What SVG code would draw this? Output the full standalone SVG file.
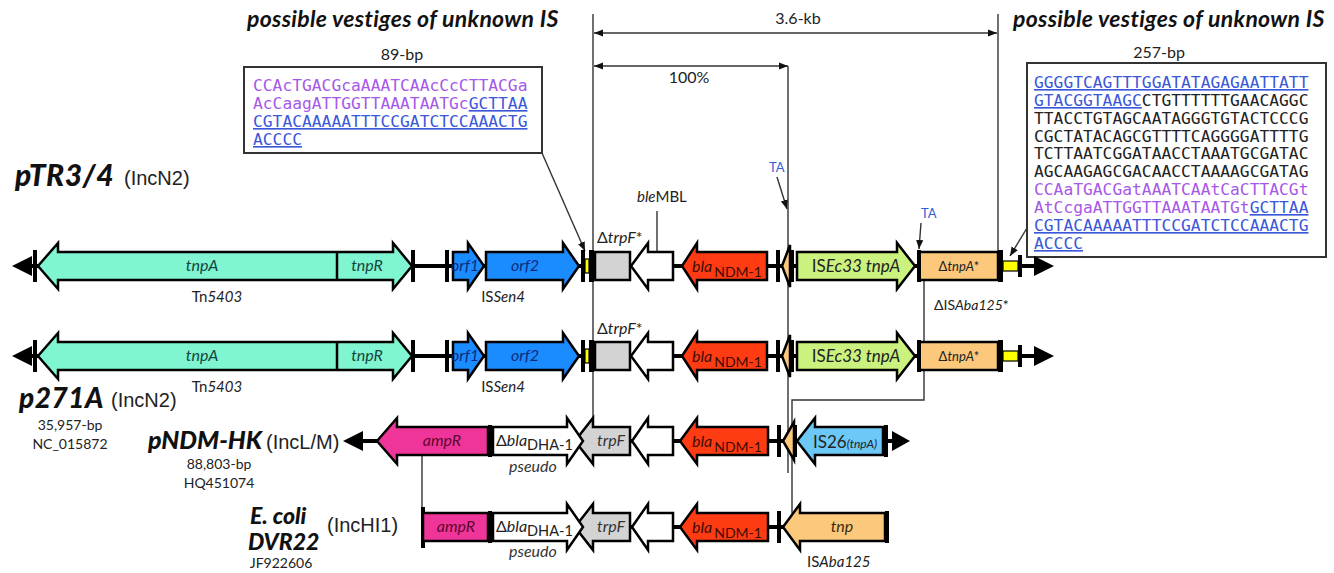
<svg xmlns="http://www.w3.org/2000/svg" width="1334" height="573" viewBox="0 0 1334 573">
<defs>
<marker id="ah" viewBox="0 0 10 10" refX="10" refY="5" markerWidth="9" markerHeight="9" orient="auto-start-reverse" markerUnits="userSpaceOnUse"><path d="M0,1 L10,5 L0,9 z" fill="#111"/></marker>
</defs>
<style>
.g{stroke:#000;stroke-width:2.5;stroke-linejoin:miter}
.bb{stroke:#000;stroke-width:4}
.tk{fill:#000}
.ln{stroke:#333;stroke-width:1.4;fill:none}
.aq{fill:#7ff5d2}.bl{fill:#1a8cff}.gy{fill:#d3d3d3}.wh{fill:#fff}.rd{fill:#ff3b14}.gr{fill:#cbf27e}.tn{fill:#fcc97c}.pk{fill:#f0359a}.sk{fill:#6cc8f7}.yl{fill:#ffff00;stroke:#000;stroke-width:1.2}
.t{font-family:Lato,"Open Sans",sans-serif;fill:#222}
.i{font-style:italic}
.gl{font-family:Lato,"Open Sans",sans-serif;font-style:italic;font-size:16px}
.ttl{font-family:Lato,"Open Sans",sans-serif;font-weight:bold;font-style:italic;font-size:23px;letter-spacing:0.3px;fill:#111}
.pl{font-family:Lato,"Open Sans",sans-serif;font-weight:900;font-style:italic;fill:#111}
.inc{font-family:"Liberation Sans",Arial,sans-serif;font-size:20px;fill:#222}
.sm{font-family:Lato,"Open Sans",sans-serif;font-size:14px;fill:#222}
.seq{font-family:"DejaVu Sans Mono",monospace;font-size:16.3px}
.pu{fill:#a659e8}.bu{fill:#3b57d9;text-decoration:underline}.bk{fill:#222}
.ta{font-family:Lato,"Open Sans",sans-serif;font-size:13px;fill:#2e5fd8}
.box{fill:#fff;stroke:#333;stroke-width:2}
.nd{font-family:Lato,"Open Sans",sans-serif;fill:#3d0c00}
</style>
<rect width="1334" height="573" fill="#fff"/>

<!-- connectors -->
<g id="connectors">
<line class="ln" x1="593" y1="14" x2="593" y2="423"/>
<line class="ln" x1="998" y1="14" x2="998" y2="253"/>
<line class="ln" x1="788" y1="66" x2="788" y2="473"/>
<line class="ln" x1="594" y1="33" x2="997" y2="33" marker-start="url(#ah)" marker-end="url(#ah)"/>
<line class="ln" x1="594" y1="66" x2="788" y2="66" marker-start="url(#ah)" marker-end="url(#ah)"/>
<line class="ln" x1="542" y1="153" x2="585" y2="251" marker-end="url(#ah)"/>
<line class="ln" x1="1027" y1="228" x2="1010" y2="256" marker-end="url(#ah)"/>
<line class="ln" x1="777" y1="177" x2="787" y2="209" marker-end="url(#ah)"/>
<line class="ln" x1="921" y1="223" x2="919" y2="249" marker-end="url(#ah)"/>
<line class="ln" x1="657" y1="211" x2="657" y2="252"/>
<line class="ln" x1="924" y1="280" x2="924" y2="342"/>
<polyline class="ln" points="924,370 924,400 792,400 792,513"/>
<line class="ln" x1="422" y1="455" x2="422" y2="513"/>
</g>

<!-- titles -->
<g id="titles">
<text class="ttl" x="247" y="27">possible vestiges of unknown IS</text>
<text class="ttl" x="1013" y="27">possible vestiges of unknown IS</text>
<text class="t" x="798" y="24" font-size="16" text-anchor="middle">3.6-kb</text>
<text class="t" x="689" y="83" font-size="16" text-anchor="middle">100%</text>
<text class="t" x="402" y="60" font-size="16" text-anchor="middle">89-bp</text>
<text class="t" x="1159" y="58" font-size="16" text-anchor="middle">257-bp</text>
<text class="ta" x="769" y="172">TA</text>
<text class="ta" x="921" y="218">TA</text>
</g>

<!-- sequence boxes -->
<g id="box89">
<rect class="box" x="244" y="67" width="298" height="86"/>
<text class="seq" x="253" y="91"><tspan class="pu">CCAcTGACGcaAAATCAAcCcCTTACGa</tspan></text>
<text class="seq" x="253" y="109"><tspan class="pu">AcCaagATTGGTTAAATAATGc</tspan><tspan class="bu">GCTTAA</tspan></text>
<text class="seq" x="253" y="127"><tspan class="bu">CGTACAAAAATTTCCGATCTCCAAACTG</tspan></text>
<text class="seq" x="253" y="145"><tspan class="bu">ACCCC</tspan></text>
</g>
<g id="box257">
<rect class="box" x="1027" y="63" width="299" height="194"/>
<text class="seq" x="1034" y="88"><tspan class="bu">GGGGTCAGTTTGGATATAGAGAATTATT</tspan></text>
<text class="seq" x="1034" y="106"><tspan class="bu">GTACGGTAAGC</tspan><tspan class="bk">CTGTTTTTTGAACAGGC</tspan></text>
<text class="seq bk" x="1034" y="124">TTACCTGTAGCAATAGGGTGTACTCCCG</text>
<text class="seq bk" x="1034" y="141.5">CGCTATACAGCGTTTTCAGGGGATTTTG</text>
<text class="seq bk" x="1034" y="159">TCTTAATCGGATAACCTAAATGCGATAC</text>
<text class="seq bk" x="1034" y="177">AGCAAGAGCGACAACCTAAAAGCGATAG</text>
<text class="seq" x="1034" y="195"><tspan class="pu">CCAaTGACGatAAATCAAtCaCTTACGt</tspan></text>
<text class="seq" x="1034" y="213"><tspan class="pu">AtCcgaATTGGTTAAATAATGt</tspan><tspan class="bu">GCTTAA</tspan></text>
<text class="seq" x="1034" y="231"><tspan class="bu">CGTACAAAAATTTCCGATCTCCAAACTG</tspan></text>
<text class="seq" x="1034" y="249"><tspan class="bu">ACCCC</tspan></text>
</g>

<!-- plasmid labels -->
<g id="labels">
<text class="pl" x="15" y="186" font-size="30" letter-spacing="0.5">pTR3/4</text><text class="inc" x="124" y="185">(IncN2)</text>
<text class="pl" x="19" y="408" font-size="28" letter-spacing="0.5">p271A</text><text class="inc" x="111" y="407">(IncN2)</text>
<text class="sm" x="70" y="430" text-anchor="middle">35,957-bp</text>
<text class="sm" x="70" y="449" text-anchor="middle">NC_015872</text>
<text class="pl" x="148" y="449" font-size="25">pNDM-HK</text><text class="inc" x="266" y="449">(IncL/M)</text>
<text class="sm" x="219" y="469" text-anchor="middle">88,803-bp</text>
<text class="sm" x="219" y="488" text-anchor="middle">HQ451074</text>
<text class="pl" x="250" y="524" font-size="23">E. coli</text>
<text class="pl" x="248" y="550" font-size="23">DVR22</text>
<text class="sm" x="281" y="568" text-anchor="middle">JF922606</text>
<text class="inc" x="327" y="532">(IncHI1)</text>
</g>

<!-- ROW 1 pTR3/4 -->
<g id="row1">
<line class="bb" x1="32" y1="266" x2="1034" y2="266"/>
<polygon class="tk" points="12,266 32,256 32,276"/>
<polygon class="tk" points="1034,256 1054,266 1034,276"/>
<rect class="tk" x="33" y="250" width="4" height="32"/>
<rect class="tk" x="411" y="250" width="4" height="32"/>
<rect class="tk" x="445" y="250" width="4" height="32"/>
<g id="r1-tn5403"><polygon class="g aq" points="38,266 58,243 58,252 393,252 393,243 412,266 393,289 393,280 58,280 58,289"/><line class="g" x1="337" y1="252" x2="337" y2="280"/>
<text class="gl" x="202" y="271" text-anchor="middle" fill="#17453a">tnpA</text><text class="gl" x="367" y="271" text-anchor="middle" fill="#17453a">tnpR</text>
<text class="t" x="217" y="302" font-size="15" text-anchor="middle">Tn<tspan class="i">5403</tspan></text></g>
<g id="r1-orf1"><polygon class="g bl" points="453,252 468,252 468,243 484,266 468,289 468,280 453,280"/><text class="gl" x="465" y="271" text-anchor="middle" fill="#102a7a">orf1</text></g>
<g id="r1-orf2"><polygon class="g bl" points="486,252 563,252 563,243 579,266 563,289 563,280 486,280"/><text class="gl" x="525" y="271" text-anchor="middle" fill="#102a7a">orf2</text>
<text class="t" x="503" y="302" font-size="15" text-anchor="middle">IS<tspan class="i">Sen4</tspan></text></g>
<g id="r1-ir1"><rect class="tk" x="581" y="250" width="4" height="32"/><rect class="yl" x="585" y="259" width="4" height="14"/><rect class="tk" x="589" y="250" width="5" height="32"/></g>
<g id="r1-trpF"><rect class="g gy" x="595" y="252" width="35" height="28"/><text class="t" x="597" y="243" font-size="16">Δ<tspan class="i">trpF</tspan>*</text></g>
<g id="r1-ble"><polygon class="g wh" points="631,266 648,243 648,252 673,252 673,280 648,280 648,289"/><text class="t" x="637" y="202" font-size="15"><tspan class="i">ble</tspan>MBL</text></g>
<g id="r1-ndm"><polygon class="g rd" points="682,266 697,243 697,252 767,252 767,280 697,280 697,289"/><text class="nd" x="692" y="272" font-size="16"><tspan class="i">bla</tspan><tspan font-size="14" dx="2" dy="5">NDM-1</tspan></text></g>
<g id="r1-isaba"><rect class="tk" x="776" y="250" width="4" height="32"/><polygon class="g tn" stroke-width="1.5" points="782,266 790,245 790,287"/><rect class="tk" x="790" y="250" width="4" height="32"/></g>
<g id="r1-isec33"><polygon class="g gr" points="797,252 897,252 897,243 915,266 897,289 897,280 797,280"/><text class="t" x="856" y="272" font-size="17" text-anchor="middle" fill="#2a3a10">IS<tspan class="i">Ec33 tnpA</tspan></text></g>
<g id="r1-dtnpA"><rect class="g tn" x="919" y="252" width="79" height="28"/><rect class="tk" x="917" y="250" width="4" height="32"/><rect class="tk" x="998" y="250" width="5" height="32"/><text class="t" x="959" y="271" font-size="13" text-anchor="middle" fill="#3a2a10">Δ<tspan class="i">tnpA</tspan>*</text>
<text class="t" x="934" y="310" font-size="14">ΔIS<tspan class="i">Aba125</tspan>*</text></g>
<g id="r1-ir2"><rect class="yl" x="1003" y="261" width="15" height="10"/><rect class="tk" x="1018" y="255" width="4" height="22"/></g>
</g>

<!-- ROW 2 p271A -->
<g id="row2">
<line class="bb" x1="32" y1="356" x2="1034" y2="356"/>
<polygon class="tk" points="12,356 32,346 32,366"/>
<polygon class="tk" points="1034,346 1054,356 1034,366"/>
<rect class="tk" x="33" y="340" width="4" height="32"/>
<rect class="tk" x="411" y="340" width="4" height="32"/>
<rect class="tk" x="445" y="340" width="4" height="32"/>
<g id="r2-tn5403"><polygon class="g aq" points="38,356 58,333 58,342 393,342 393,333 412,356 393,379 393,370 58,370 58,379"/><line class="g" x1="337" y1="342" x2="337" y2="370"/>
<text class="gl" x="202" y="361" text-anchor="middle" fill="#17453a">tnpA</text><text class="gl" x="367" y="361" text-anchor="middle" fill="#17453a">tnpR</text>
<text class="t" x="217" y="392" font-size="15" text-anchor="middle">Tn<tspan class="i">5403</tspan></text></g>
<g id="r2-orf1"><polygon class="g bl" points="453,342 468,342 468,333 484,356 468,379 468,370 453,370"/><text class="gl" x="465" y="361" text-anchor="middle" fill="#102a7a">orf1</text></g>
<g id="r2-orf2"><polygon class="g bl" points="486,342 563,342 563,333 579,356 563,379 563,370 486,370"/><text class="gl" x="525" y="361" text-anchor="middle" fill="#102a7a">orf2</text>
<text class="t" x="503" y="392" font-size="15" text-anchor="middle">IS<tspan class="i">Sen4</tspan></text></g>
<g id="r2-ir1"><rect class="tk" x="581" y="340" width="4" height="32"/><rect class="yl" x="585" y="349" width="4" height="14"/><rect class="tk" x="589" y="340" width="5" height="32"/></g>
<g id="r2-trpF"><rect class="g gy" x="595" y="342" width="35" height="28"/><text class="t" x="597" y="334" font-size="16">Δ<tspan class="i">trpF</tspan>*</text></g>
<g id="r2-ble"><polygon class="g wh" points="631,356 648,333 648,342 673,342 673,370 648,370 648,379"/></g>
<g id="r2-ndm"><polygon class="g rd" points="682,356 697,333 697,342 767,342 767,370 697,370 697,379"/><text class="nd" x="692" y="362" font-size="16"><tspan class="i">bla</tspan><tspan font-size="14" dx="2" dy="5">NDM-1</tspan></text></g>
<g id="r2-isaba"><rect class="tk" x="776" y="340" width="4" height="32"/><polygon class="g tn" stroke-width="1.5" points="782,356 790,335 790,377"/><rect class="tk" x="790" y="340" width="4" height="32"/></g>
<g id="r2-isec33"><polygon class="g gr" points="797,342 897,342 897,333 915,356 897,379 897,370 797,370"/><text class="t" x="856" y="362" font-size="17" text-anchor="middle" fill="#2a3a10">IS<tspan class="i">Ec33 tnpA</tspan></text></g>
<g id="r2-dtnpA"><rect class="g tn" x="919" y="342" width="79" height="28"/><rect class="tk" x="917" y="340" width="4" height="32"/><rect class="tk" x="998" y="340" width="5" height="32"/><text class="t" x="959" y="361" font-size="13" text-anchor="middle" fill="#3a2a10">Δ<tspan class="i">tnpA</tspan>*</text></g>
<g id="r2-ir2"><rect class="yl" x="1003" y="351" width="15" height="10"/><rect class="tk" x="1018" y="345" width="4" height="22"/></g>
</g>

<!-- ROW 3 pNDM-HK -->
<g id="row3">
<line class="bb" x1="363" y1="441" x2="892" y2="441"/>
<polygon class="tk" points="343,441 363,431 363,451"/>
<polygon class="tk" points="892,431 910,441 892,451"/>
<g id="r3-ampR"><polygon class="g pk" points="377,441 397,418 397,427 488,427 488,455 397,455 397,464"/><text class="gl" x="442" y="446" text-anchor="middle" fill="#5a0830">ampR</text></g>
<rect class="tk" x="488" y="425" width="4" height="32"/>
<g id="r3-trpF"><polygon class="g gy" points="575,441 593,418 593,427 630,427 630,455 593,455 593,464"/><text class="gl" x="611" y="446" text-anchor="middle" fill="#333">trpF</text></g>
<g id="r3-dha"><polygon class="g wh" points="493,427 567,427 567,418 583,441 567,464 567,455 493,455"/><text class="t" x="496" y="446" font-size="16">Δ<tspan class="i">bla</tspan><tspan font-size="14.5" dy="4">DHA-1</tspan></text>
<text class="gl" x="533" y="472" text-anchor="middle" fill="#333">pseudo</text></g>
<g id="r3-ble"><polygon class="g wh" points="632,441 648,418 648,427 673,427 673,455 648,455 648,464"/></g>
<g id="r3-ndm"><polygon class="g rd" points="680,441 697,418 697,427 768,427 768,455 697,455 697,464"/><text class="nd" x="692" y="447" font-size="16"><tspan class="i">bla</tspan><tspan font-size="14" dx="2" dy="5">NDM-1</tspan></text></g>
<g id="r3-isaba"><rect class="tk" x="777" y="425" width="4" height="32"/><polygon class="g tn" stroke-width="1.5" points="783,441 794,422 794,460"/><rect class="tk" x="793" y="425" width="4" height="32"/></g>
<g id="r3-is26"><polygon class="g sk" points="797,441 815,418 815,427 883,427 883,455 815,455 815,464"/><text class="t" x="813" y="448" font-size="17" fill="#1a3060">IS26<tspan class="i" font-size="12">(tnpA)</tspan></text></g>
<rect class="tk" x="884" y="425" width="4" height="32"/>
</g>

<!-- ROW 4 E. coli DVR22 -->
<g id="row4">
<line class="bb" x1="421" y1="527" x2="889" y2="527"/>
<rect class="tk" x="421" y="507" width="4" height="41"/>
<g id="r4-ampR"><rect class="g pk" x="423" y="513" width="65" height="28"/><text class="gl" x="456" y="532" text-anchor="middle" fill="#5a0830">ampR</text></g>
<rect class="tk" x="488" y="511" width="4" height="32"/>
<g id="r4-trpF"><polygon class="g gy" points="575,527 593,504 593,513 630,513 630,541 593,541 593,550"/><text class="gl" x="611" y="532" text-anchor="middle" fill="#333">trpF</text></g>
<g id="r4-dha"><polygon class="g wh" points="493,513 567,513 567,504 583,527 567,550 567,541 493,541"/><text class="t" x="496" y="532" font-size="16">Δ<tspan class="i">bla</tspan><tspan font-size="14.5" dy="4">DHA-1</tspan></text>
<text class="gl" x="533" y="557" text-anchor="middle" fill="#333">pseudo</text></g>
<g id="r4-ble"><polygon class="g wh" points="632,527 648,504 648,513 673,513 673,541 648,541 648,550"/></g>
<g id="r4-ndm"><polygon class="g rd" points="680,527 697,504 697,513 768,513 768,541 697,541 697,550"/><text class="nd" x="692" y="533" font-size="16"><tspan class="i">bla</tspan><tspan font-size="14" dx="2" dy="5">NDM-1</tspan></text></g>
<rect class="tk" x="777" y="511" width="4" height="32"/>
<g id="r4-tnp"><polygon class="g tn" points="783,527 800,504 800,513 885,513 885,541 800,541 800,550"/><text class="gl" x="842" y="532" text-anchor="middle" fill="#3a2a10">tnp</text>
<text class="t" x="807" y="567" font-size="15">IS<tspan class="i">Aba125</tspan></text></g>
<rect class="tk" x="885" y="511" width="4" height="32"/>
</g>
</svg>
